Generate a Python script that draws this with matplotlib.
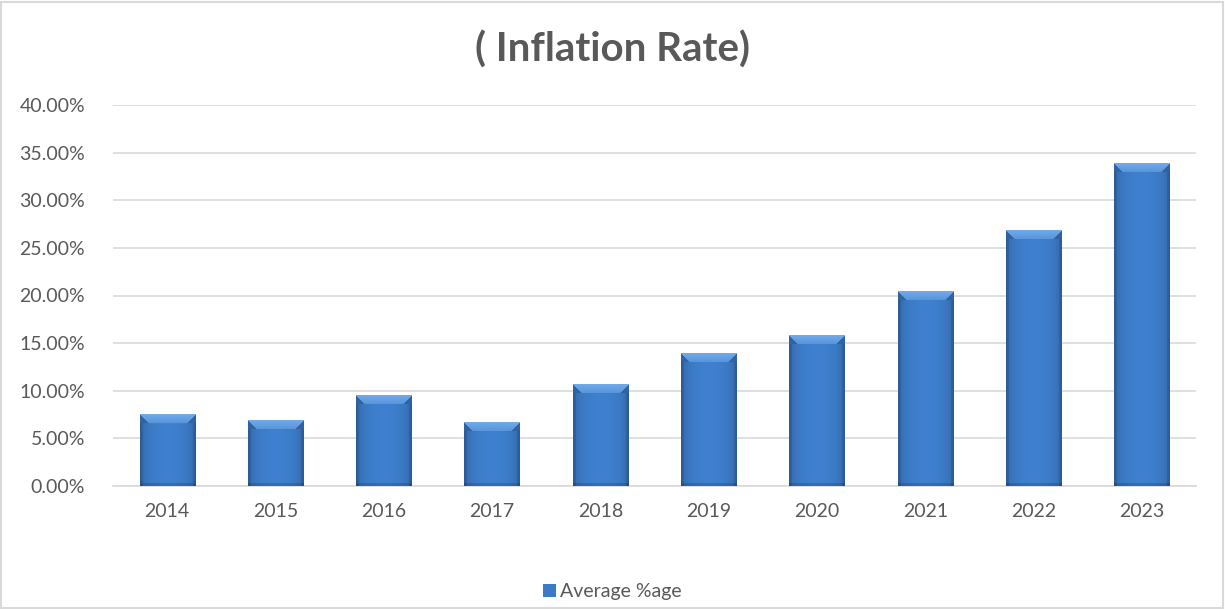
import numpy as np
import matplotlib
matplotlib.use("Agg")
import matplotlib.pyplot as plt
from matplotlib.ticker import PercentFormatter
from matplotlib.patches import Rectangle

years = ["2014", "2015", "2016", "2017", "2018", "2019", "2020", "2021", "2022", "2023"]
avg_rate = [7.5, 6.9, 9.55, 6.7, 10.7, 13.9, 15.85, 20.4, 26.85, 33.9]   # percent
series_name = "Average %age"
title = "( Inflation Rate)"

plt.rcParams['font.family'] = ['Lato', 'DejaVu Sans']
grey = "#595959"

fig = plt.figure(figsize=(12.25, 6.09), dpi=100)
ax = fig.add_axes([113 / 1225, 1 - 486 / 609, (1196 - 113) / 1225, (486 - 105) / 609])

x = np.arange(len(years))
bars = ax.bar(x, avg_rate, width=0.51, color="#3b7bc6", zorder=2, label=series_name)

ax.set_xlim(-0.5, len(years) - 0.5)
ax.set_ylim(0, 40)
ax.set_yticks(np.arange(0, 41, 5))
ax.yaxis.set_major_formatter(PercentFormatter(decimals=2))
ax.set_xticks(x)
ax.set_xticklabels(years)
ax.grid(axis="y", color="#d9d9d9", linewidth=1.2, zorder=0)
for s in ["top", "right", "left"]:
    ax.spines[s].set_visible(False)
ax.spines["bottom"].set_color("#d9d9d9")
ax.spines["bottom"].set_linewidth(1.2)
ax.tick_params(length=0, colors=grey, labelsize=14, pad=12)
ax.tick_params(axis="y", pad=20)

# bevel effect: build a small pixel image for every bar, drawn over it
fig.canvas.draw()
def bevel_image(wpx, hpx, bev=9):
    img = np.zeros((hpx, wpx, 3))
    base = np.array([0x3c, 0x7c, 0xc8]) / 255
    xs = np.linspace(0, 1, wpx)
    prof = 0.84 + 0.2 * np.sin(np.pi * xs) ** 0.6
    img[:] = base * prof[None, :, None]
    yy, xx = np.mgrid[0:hpx, 0:wpx]
    side = np.minimum(xx, wpx - 1 - xx)
    img[side < 3] *= 0.88
    img[hpx - 1 - yy < 3] *= 0.85
    # top bevel trapezoid (lighter)
    top = (yy < bev) & (side >= yy)
    light = np.array([0x70, 0xaa, 0xea]) / 255
    t = (yy / bev)[..., None]
    img[top] = (light * (1 - 0.5 * t) + base * 0.5 * t)[top]
    corner = (yy < bev) & (side < yy)
    img[corner] = base * 0.8
    return np.clip(img, 0, 1)

for b in bars:
    x0, y0 = b.get_x(), b.get_y()
    w, h = b.get_width(), b.get_height()
    p0 = ax.transData.transform((x0, y0))
    p1 = ax.transData.transform((x0 + w, y0 + h))
    wpx = max(int(round(p1[0] - p0[0])), 2)
    hpx = max(int(round(p1[1] - p0[1])), 2)
    ax.imshow(bevel_image(wpx, hpx), extent=(x0, x0 + w, y0, y0 + h),
              aspect="auto", interpolation="bilinear", zorder=3)
ax.set_xlim(-0.5, len(years) - 0.5)
ax.set_ylim(0, 40)

fig.suptitle(title, y=1 - 50 / 609, va="center", fontsize=29, fontweight="bold", color=grey)

leg = ax.legend(loc="center", bbox_to_anchor=(0.5, 1 - 592 / 609), bbox_transform=fig.transFigure,
                frameon=False, fontsize=14, handlelength=0.65, handleheight=0.65, handletextpad=0.25)
for t in leg.get_texts():
    t.set_color(grey)

fig.patches.append(Rectangle((0.001, 0.002), 0.997, 0.995, transform=fig.transFigure,
                             fill=False, edgecolor="#d9d9d9", linewidth=1.5))

fig.savefig("out.png", dpi=100)
